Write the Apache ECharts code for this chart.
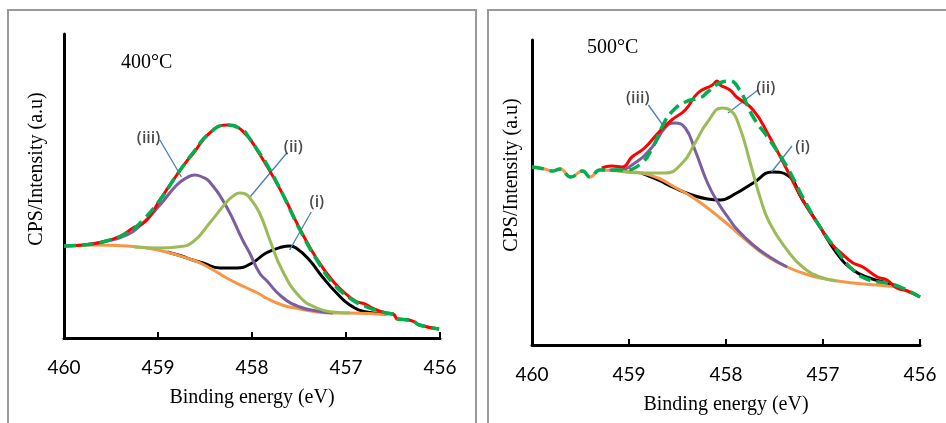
<!DOCTYPE html>
<html>
<head>
<meta charset="utf-8">
<script src="https://cdn.jsdelivr.net/npm/echarts@6/dist/echarts.min.js"></script>
<style>
  html, body { margin: 0; padding: 0; background: #fff; }
  #chart { width: 946px; height: 423px; }
</style>
</head>
<body>
<div id="chart"></div>
<script>
// x ticks (binding energy, eV)
var xTicks = [460, 459, 458, 457, 456];

// ---- 400°C panel : [eV, intensity a.u.] ----
var bg400 = [[460,92],[459.69,93],[459.33,92],[459,88],[458.63,78],[458.45,70],[458.27,60],[458.1,52],[457.92,44],[457.85,40],[457.68,33],[457.49,29],[457.31,26],[457.14,25],[456.96,25],[456.57,24],[456.5,24],[456.45,19],[456.33,18],[456.27,16],[456.22,13],[456.01,9]];
var peakI400 = [[458.9,86],[458.75,82],[458.63,78],[458.52,75],[458.34,70],[458.16,70],[458,75],[457.85,85],[457.68,91],[457.6,92],[457.53,90],[457.39,78],[457.25,61],[457.1,45],[456.96,33],[456.78,26],[456.57,24]];
var peakIII400 = [[459.8,93],[459.59,96],[459.33,103],[459.16,115],[458.98,133],[458.8,153],[458.7,160],[458.61,163],[458.53,161],[458.45,156],[458.27,131],[458.1,98],[458.03,86],[457.92,65],[457.85,58],[457.68,41],[457.49,31],[457.31,27],[457.14,25]];
var peakII400 = [[459.25,91],[458.98,90],[458.8,91],[458.63,96],[458.45,115],[458.27,136],[458.2,142],[458.13,145],[458.07,144],[458.03,141],[457.92,125],[457.81,98],[457.68,68],[457.49,41],[457.31,30],[457.14,26],[456.96,25]];
var raw400 = [[460,92],[459.8,93],[459.59,96],[459.4,102],[459.25,111],[459.17,114],[459.1,120],[458.98,138],[458.8,163],[458.7,176],[458.63,184],[458.45,205],[458.27,213],[458.1,207],[457.92,184],[457.68,145],[457.49,109],[457.31,79],[457.14,57],[457,44],[456.9,37],[456.8,34],[456.7,29],[456.57,25],[456.5,24],[456.45,19],[456.33,18],[456.27,16],[456.22,13],[456.01,9]];
var fit400 = [[460,92],[459.8,93],[459.59,96],[459.33,105],[459.16,118],[458.98,138],[458.8,163],[458.63,185],[458.45,205],[458.27,213],[458.1,208],[458.03,200],[457.92,185],[457.85,175],[457.68,145],[457.49,108],[457.31,78],[457.14,55],[456.96,40],[456.78,31],[456.57,25],[456.5,24],[456.45,19],[456.33,18],[456.27,16],[456.22,13],[456.01,9]];
var labels400 = [['(iii)',459.1,200],['(ii)',457.56,191],['(i)',457.31,136]];
var leaders400 = [[[458.98,198],[458.75,161]],[[457.63,185],[458.03,140]],[[457.37,126],[457.6,88]]];

// ---- 500°C panel ----
var bg500 = [[460,178],[459.87,176],[459.79,174],[459.71,176],[459.6,168],[459.48,174],[459.4,168],[459.3,175],[459.11,174],[458.87,172],[458.7,167],[458.53,158],[458.35,148],[458.19,137],[458.06,127],[457.89,113],[457.72,99],[457.55,87],[457.37,78],[457.21,72],[457.03,67],[456.69,62],[456.34,59],[456.24,58],[456.13,54],[456,48]];
var peakI500 = [[458.87,172],[458.7,165],[458.53,157],[458.35,150],[458.19,146],[458.06,145],[457.89,152],[457.72,162],[457.52,173],[457.37,170],[457.21,145],[457.03,118],[456.86,92],[456.69,75],[456.52,67],[456.34,62],[456.24,59]];
var peakIII500 = [[459.2,175],[459.11,175],[458.94,182],[458.76,198],[458.63,217],[458.53,222],[458.42,217],[458.32,195],[458.19,162],[458.08,142],[457.96,125],[457.89,116],[457.72,100],[457.55,88],[457.37,78]];
var peakII500 = [[459.11,174],[458.87,172],[458.63,172],[458.45,182],[458.32,202],[458.19,223],[458.04,237],[457.96,235],[457.86,218],[457.75,182],[457.65,148],[457.55,122],[457.37,95],[457.21,78],[457.03,68],[456.86,64]];
var raw500 = [[459.28,177],[459.18,179],[459.07,178],[458.97,188],[458.84,197],[458.7,212],[458.56,225],[458.42,235],[458.29,252],[458.14,260],[458.09,264],[458.06,260],[457.96,255],[457.89,248],[457.72,235],[457.55,208],[457.37,175],[457.21,145],[457.03,118],[456.93,103],[456.79,90],[456.69,82],[456.59,78],[456.44,68],[456.34,65],[456.24,57],[456.13,54],[456,48]];
var fit500 = [[460,178],[459.87,176],[459.79,174],[459.71,176],[459.6,168],[459.48,174],[459.4,168],[459.3,175],[459.04,175],[458.87,182],[458.76,197],[458.66,218],[458.56,233],[458.42,243],[458.25,248],[458.19,253],[458.04,263],[457.96,264],[457.86,255],[457.72,228],[457.55,205],[457.37,178],[457.21,148],[457.03,118],[456.86,95],[456.69,75],[456.52,65],[456.34,62],[456.18,57],[456,48]];
var labels500 = [['(iii)',458.91,247],['(ii)',457.59,257],['(i)',457.21,198]];
var leaders500 = [[[458.8,240],[458.63,217]],[[457.67,255],[457.98,232]],[[457.32,199],[457.53,173]]];

var serif = "'Liberation Serif', 'Times New Roman', serif";
var sans = "Lato, 'Open Sans', sans-serif";

function xAxisFor(idx) {
    return {
        gridIndex: idx, type: 'value', min: 456, max: 460, interval: 1, inverse: true,
        name: 'Binding energy (eV)', nameLocation: 'middle', nameGap: 50,
        nameTextStyle: {fontFamily: serif, fontSize: 20, color: '#000'},
        axisLine: {lineStyle: {color: '#000', width: 3}},
        axisTick: {inside: true, length: 6, lineStyle: {color: '#000', width: 2}},
        axisLabel: {margin: 20, fontFamily: sans, fontSize: 19, color: '#000',
            formatter: function (v) { return xTicks.indexOf(v) >= 0 ? String(v) : ''; }},
        splitLine: {show: false}
    };
}

function yAxisFor(idx, max, gap, shift) {
    return {
        gridIndex: idx, type: 'value', min: 0, max: max,
        name: 'CPS/Intensity (a.u)', nameLocation: 'middle', nameGap: gap, nameRotate: 90,
        nameTextStyle: {fontFamily: serif, fontSize: 20, color: '#000', padding: [0, 0, 0, shift]},
        axisLine: {show: true, lineStyle: {color: '#000', width: 3}},
        axisTick: {show: false},
        axisLabel: {show: false},
        splitLine: {show: false}
    };
}

function curve(idx, data, color, width, dash, z) {
    return {
        type: 'line', xAxisIndex: idx, yAxisIndex: idx, data: data,
        showSymbol: false, smooth: 0.5, z: z, silent: true,
        lineStyle: {color: color, width: width, type: dash || 'solid', cap: 'butt'}
    };
}

function labelSeries(idx, labels, leaders) {
    return {
        type: 'scatter', xAxisIndex: idx, yAxisIndex: idx, symbolSize: 0, z: 10, silent: true,
        data: labels.map(function (l) { return {name: l[0], value: [l[1], l[2]]}; }),
        label: {show: true, position: 'inside', formatter: '{b}', fontFamily: "'Open Sans', sans-serif",
            fontSize: 16, fontWeight: 600, color: '#1a1a1a'},
        markLine: {
            silent: true, symbol: ['none', 'none'], animation: false,
            label: {show: false},
            lineStyle: {color: '#4a7ebb', width: 1.3, type: 'solid'},
            data: leaders.map(function (s) { return [{coord: s[0]}, {coord: s[1]}]; })
        }
    };
}

function panelSeries(idx, bg, pI, pIII, pII, raw, fit, labels, leaders) {
    return [
        curve(idx, pI, '#000000', 3, null, 2),
        curve(idx, bg, '#f79646', 3, null, 3),
        curve(idx, pIII, '#7b5ea0', 3, null, 4),
        curve(idx, pII, '#9bbb59', 3, null, 5),
        curve(idx, raw, '#ff0000', 3, null, 6),
        curve(idx, fit, '#00b050', 3.5, [12, 6], 7),
        labelSeries(idx, labels, leaders)
    ];
}

var myChart = echarts.init(document.getElementById('chart'), null, {renderer: 'canvas'});

var option = {
    animation: false,
    backgroundColor: '#fff',
    title: [
        {text: '400°C', left: 116, top: 48, textStyle: {fontFamily: serif, fontSize: 20, fontWeight: 'normal', color: '#000'}},
        {text: '500°C', left: 582, top: 33, textStyle: {fontFamily: serif, fontSize: 20, fontWeight: 'normal', color: '#000'}}
    ],
    graphic: [
        {type: 'rect', shape: {x: 8, y: 10, width: 468, height: 430}, style: {fill: 'none', stroke: '#999', lineWidth: 2}, silent: true},
        {type: 'rect', shape: {x: 488, y: 10, width: 480, height: 430}, style: {fill: 'none', stroke: '#999', lineWidth: 2}, silent: true}
    ],
    grid: [
        {left: 64, top: 34, width: 376, height: 304},
        {left: 532, top: 40, width: 388, height: 305}
    ],
    xAxis: [xAxisFor(0), xAxisFor(1)],
    yAxis: [yAxisFor(0, 304, 17, 34), yAxisFor(1, 305, 10, 35)],
    series: panelSeries(0, bg400, peakI400, peakIII400, peakII400, raw400, fit400, labels400, leaders400)
        .concat(panelSeries(1, bg500, peakI500, peakIII500, peakII500, raw500, fit500, labels500, leaders500))
};

myChart.setOption(option);
</script>
</body>
</html>
